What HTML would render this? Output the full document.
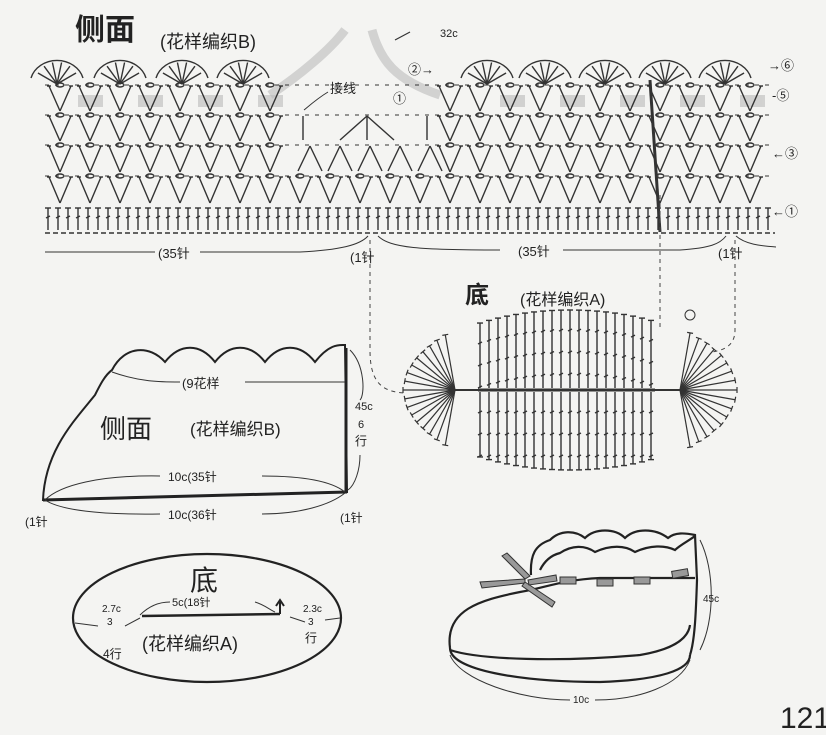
<!DOCTYPE html>
<html><head><meta charset="utf-8"><style>
html,body{margin:0;padding:0;background:#f4f4f2;}
svg{display:block}
text{font-family:"Liberation Sans","Noto Sans CJK SC",sans-serif;fill:#222}
</style></head><body>
<svg id="s" width="826" height="735" viewBox="0 0 826 735" xmlns="http://www.w3.org/2000/svg">
<rect width="826" height="735" fill="#f4f4f2"/>
<path d="M270,95 C300,75 330,50 345,30" stroke="#bbb" stroke-width="9" fill="none" opacity="0.6"/>
<path d="M372,30 C380,60 395,80 440,95" stroke="#bbb" stroke-width="9" fill="none" opacity="0.6"/>
<g fill="#bbb" opacity="0.6">
<rect x="78" y="95" width="25" height="12"/><rect x="138" y="95" width="25" height="12"/><rect x="198" y="95" width="25" height="12"/><rect x="258" y="95" width="25" height="12"/>
<rect x="500" y="95" width="25" height="12"/><rect x="560" y="95" width="25" height="12"/><rect x="620" y="95" width="25" height="12"/><rect x="680" y="95" width="25" height="12"/><rect x="740" y="95" width="25" height="12"/>
</g>
<g id="g" stroke="#333" fill="none" stroke-width="1.4"></g>
<g fill="none" stroke="#333">
<path d="M395,40 L410,32" stroke-width="1.2"/>
<path d="M328,92 C318,98 310,105 304,110"/>
<line x1="45" y1="252" x2="155" y2="252"/>
<path d="M200,252 L300,252 C340,250 360,245 368,236"/>
<path d="M378,236 C390,248 420,250 500,250"/>
<path d="M563,250 L680,250 C710,248 720,244 726,236"/>
<path d="M736,236 C745,244 760,246 776,247"/>
</g>
<text x="75" y="40" font-size="30" font-weight="bold">侧面</text>
<text x="160" y="48" font-size="18">(花样编织B)</text>
<text x="440" y="37" font-size="11">32c</text>
<text x="330" y="93" font-size="13">接线</text>
<text x="408" y="74" font-size="13">②→</text>
<text x="393" y="103" font-size="13">①</text>
<text x="768" y="70" font-size="13">→⑥</text>
<text x="772" y="100" font-size="13">-⑤</text>
<text x="772" y="158" font-size="13">←③</text>
<text x="772" y="216" font-size="13">←①</text>
<text x="158" y="258" font-size="13">(35针</text>
<text x="350" y="262" font-size="13">(1针</text>
<text x="518" y="256" font-size="13">(35针</text>
<text x="718" y="258" font-size="13">(1针</text>
<g stroke="#444" stroke-dasharray="4,4" fill="none">
<path d="M370,240 L370,350 C370,380 380,392 405,393"/>
<path d="M660,195 L660,330"/>
<path d="M735,240 L735,330 C735,345 725,350 712,352"/>
</g>
<text x="465" y="303" font-size="24" font-weight="bold">底</text>
<text x="520" y="305" font-size="16">(花样编织A)</text>
<circle cx="690" cy="315" r="5" stroke="#333" fill="none"/>
<g fill="none">
<path d="M43,500 C45,450 75,420 95,395 C100,385 105,375 112,370 C125,345 150,345 165,362 C180,343 200,343 215,362 C230,343 250,343 265,362 C280,343 300,343 315,362 C330,343 340,345 345,345 L347,492 Z" stroke="#222" stroke-width="2"/>
<line x1="43" y1="500" x2="347" y2="492" stroke="#222" stroke-width="3"/>
<line x1="346" y1="348" x2="346" y2="492" stroke="#222" stroke-width="3"/>
<path d="M112,372 C140,382 160,382 180,382" stroke="#333"/>
<line x1="245" y1="382" x2="345" y2="382" stroke="#333"/>
<path d="M350,350 C365,365 365,395 360,400 M360,455 C360,470 355,485 348,490" stroke="#333"/>
<path d="M45,500 C60,485 100,475 160,476" stroke="#333"/>
<path d="M262,476 C300,476 330,480 345,492" stroke="#333"/>
<path d="M45,500 C60,510 100,515 160,514" stroke="#333"/>
<path d="M262,514 C300,514 330,505 345,493" stroke="#333"/>
</g>
<text x="182" y="388" font-size="13">(9花样</text>
<text x="100" y="438" font-size="26">侧面</text>
<text x="190" y="435" font-size="17">(花样编织B)</text>
<text x="355" y="410" font-size="11">45c</text>
<text x="358" y="428" font-size="11">6</text>
<text x="355" y="445" font-size="12">行</text>
<text x="168" y="481" font-size="12">10c(35针</text>
<text x="168" y="519" font-size="12">10c(36针</text>
<text x="25" y="526" font-size="12">(1针</text>
<text x="340" y="522" font-size="12">(1针</text>
<g fill="none">
<ellipse cx="207" cy="618" rx="134" ry="64" stroke="#222" stroke-width="2.2"/>
<line x1="142" y1="616" x2="280" y2="614" stroke="#222" stroke-width="2.5"/>
<path d="M280,614 L280,602 M276,606 L280,600 L284,606" stroke="#222" stroke-width="2"/>
<path d="M140,615 C150,605 160,602 170,602" stroke="#333"/>
<path d="M255,602 C265,605 270,610 275,612" stroke="#333"/>
<path d="M75,623 L98,626 M125,626 L140,618 M290,617 L305,622 M325,620 L340,618" stroke="#333"/>
</g>
<text x="190" y="590" font-size="28">底</text>
<text x="172" y="606" font-size="11">5c(18针</text>
<text x="102" y="612" font-size="10">2.7c</text>
<text x="107" y="625" font-size="10">3</text>
<text x="103" y="658" font-size="12">4行</text>
<text x="303" y="612" font-size="10">2.3c</text>
<text x="308" y="625" font-size="10">3</text>
<text x="305" y="642" font-size="12">行</text>
<text x="142" y="650" font-size="18">(花样编织A)</text>
<g stroke="#222" stroke-width="2.2" fill="none">
<path d="M450,648 C445,610 480,600 520,592 C545,588 560,580 600,578 L695,578"/>
<path d="M531,575 C530,555 535,545 550,540 C560,530 575,530 585,538 C595,528 615,528 625,538 C635,528 655,528 668,538 C675,532 685,533 695,535 L697,580 C696,610 695,640 690,655"/>
<path d="M540,570 C545,560 552,555 560,553 C572,545 585,545 595,552 C610,545 625,545 635,552 C650,545 665,545 675,550 C680,545 690,540 695,536"/>
<path d="M450,648 C450,670 520,682 600,682 C660,680 690,670 690,655"/>
<path d="M450,650 C480,660 560,662 640,655 C670,650 688,640 690,625"/>
</g>
<g fill="#999" stroke="#333" stroke-width="1">
<rect x="560" y="577" width="16" height="7"/><rect x="597" y="579" width="16" height="7"/><rect x="634" y="577" width="16" height="7"/><rect x="672" y="570" width="16" height="7" transform="rotate(-10 680 573)"/>
<path d="M525,579 L480,582 L482,588 L525,583 Z"/><path d="M525,579 L502,556 L507,553 L530,576 Z"/><path d="M525,582 L555,602 L552,607 L522,586 Z"/><path d="M528,580 L556,575 L557,581 L529,585 Z"/>
</g>
<path d="M700,540 C715,570 715,620 700,650" stroke="#333" fill="none"/>
<text x="703" y="602" font-size="10">45c</text>
<path d="M450,655 C460,680 520,700 570,700 M595,700 C640,700 680,685 690,660" stroke="#333" fill="none"/>
<text x="573" y="703" font-size="10">10c</text>
<text x="780" y="728" font-size="30">121</text>
</svg>
<script>
var g=document.getElementById('g');var NS='http://www.w3.org/2000/svg';
function el(t,a){var e=document.createElementNS(NS,t);for(var k in a)e.setAttribute(k,a[k]);g.appendChild(e);return e;}
function line(a,b,c,d,w){el('line',{x1:a,y1:b,x2:c,y2:d,'stroke-width':w||1.4});}
function V(x,yt,yb){line(x-11,yt,x,yb);line(x+11,yt,x,yb);line(x-13,yt,x-9,yt);line(x+9,yt,x+13,yt);el('ellipse',{cx:x,cy:yt-1,rx:4,ry:2});}
var cols=[];for(var x=60;x<=760;x+=30)cols.push(x);
for(var x=48;x<=775;x+=10){line(x,208,x,230);line(x-3,208,x+3,208);line(x-2,218,x+2,216);}
el('line',{x1:45,y1:233,x2:775,y2:233,'stroke-dasharray':'5,3'});
var rows=[[177,203],[146,172],[116,141],[86,111]];
rows.forEach(function(r,i){cols.forEach(function(x){
 if(i>=1 && x>285 && x<445) return;
 V(x,r[0],r[1]);});
 el('line',{x1:45,y1:r[0]-1,x2:775,y2:r[0]-1,'stroke-dasharray':'4,6','stroke-width':1});
});
[310,340,370,400,430].forEach(function(x){line(x-12,171,x,146);line(x+12,171,x,146);});
line(340,140,367,116);line(394,140,367,116);line(367,140,367,116);
line(303,116,303,140);line(427,116,427,140);
[57,120,182,243,487,545,605,665,725].forEach(function(c){
 el('path',{d:'M'+(c-26)+',78 A27,24 0 0 1 '+(c+26)+',78'});
 for(var a=-60;a<=60;a+=24){var r=a*Math.PI/180;line(c,84,c+Math.sin(r)*22,84-Math.cos(r)*22);}
});
line(650,80,660,232,3);
var cx=570,cy=390,RX=170,RY=86;
function inside(x,y){return ((x-cx)/RX)*((x-cx)/RX)+((y-cy)/RY)*((y-cy)/RY)<=1;}
el('line',{x1:478,y1:390,x2:655,y2:390,'stroke-width':3});
for(var x=480;x<=655;x+=9){
 var h=RY*Math.sqrt(Math.max(0,1-((x-cx)/RX)*((x-cx)/RX)))-6;
 line(x,cy-h,x,388);line(x-3,cy-h,x+3,cy-h);line(x,392,x,cy+h);line(x-3,cy+h,x+3,cy+h);
 for(var y=cy-h+20;y<388;y+=22)line(x-2,y+1,x+2,y-1);
 for(var y=392+20;y<cy+h;y+=22)line(x-2,y+1,x+2,y-1);
}
[[455,390,-1],[680,390,1]].forEach(function(p){for(var a=-80;a<=80;a+=10){var r=a*Math.PI/180;var dx=p[2]*Math.cos(r),dy=Math.sin(r);var t=0;while(inside(p[0]+dx*(t+1),p[1]+dy*(t+1))&&t<200)t++;t-=3;
 line(p[0],p[1],p[0]+dx*t,p[1]+dy*t,1.2);line(p[0]+dx*t-dy*3,p[1]+dy*t+dx*3,p[0]+dx*t+dy*3,p[1]+dy*t-dx*3,1.2);}
 for(var a=-75;a<=75;a+=10){var r=a*Math.PI/180;var dx=p[2]*Math.cos(r),dy=Math.sin(r);var t=0;while(inside(p[0]+(p[2]>0?-25:25)+dx*(t+1),p[1]+dy*(t+1))&&t<200)t++;}
});
line(455,390,478,390,2);line(655,390,680,390,2);
</script>
</body></html>
